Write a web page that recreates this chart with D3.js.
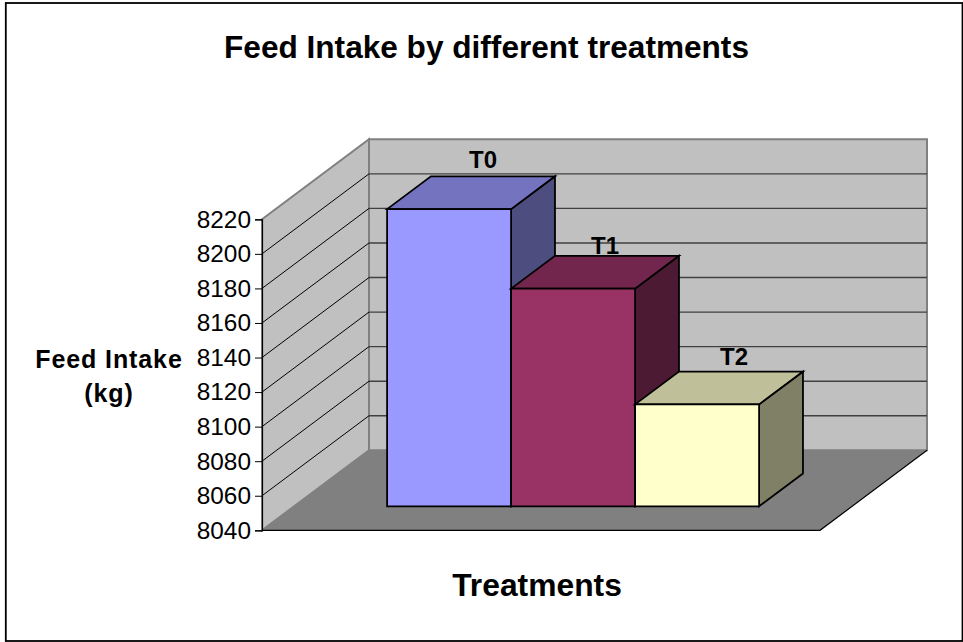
<!DOCTYPE html>
<html><head><meta charset="utf-8">
<script src="https://cdn.jsdelivr.net/npm/d3@7/dist/d3.min.js"></script>
<style>html,body{margin:0;padding:0;background:#fff}svg{display:block}text{font-family:"Liberation Sans",Arial,sans-serif;fill:#000}</style>
</head><body><svg id="c" width="963" height="642"></svg>
<script>
const categories = ["T0","T1","T2"];
const values = [8212,8166,8099];
const tickValues = [8040,8060,8080,8100,8120,8140,8160,8180,8200,8220];
const faceColors = ["#9999ff","#993366","#ffffcc"];
const titleText = "Feed Intake by different treatments";
const yTitleLines = ["Feed Intake","(kg)"];
const xTitleText = "Treatments";

const svg = d3.select("#c");
const W=963,H=642;
svg.append("rect").attr("x",5.8).attr("y",3).attr("width",956.7).attr("height",638).attr("fill","#fff").attr("stroke","#000").attr("stroke-width",1.8);

const x0=262,y0=530.3,plotW=558,plotH=311;
const depthX=107,depthY=-80;
const y=d3.scaleLinear().domain([8040,8220]).range([y0,y0-plotH]);
const x=d3.scaleBand().domain(categories).range([x0,x0+plotW]).paddingInner(0).paddingOuter(0.75);
const P=(px,py,d)=>[px+d*depthX,py+d*depthY];
const poly=(pts,fill,stroke,sw)=>svg.append("polygon").attr("points",pts.map(p=>p.join(",")).join(" ")).attr("fill",fill).attr("stroke",stroke||"none").attr("stroke-width",sw||0).attr("stroke-linejoin","miter");

const yT=y(8220),yB=y(8040),xR=x0+plotW;
poly([P(x0,yT,1),P(xR,yT,1),P(xR,yB,1),P(x0,yB,1)],"#c0c0c0","#808080",2);
poly([P(x0,yT,0),P(x0,yT,1),P(x0,yB,1),P(x0,yB,0)],"#c0c0c0","#808080",2);
poly([P(x0,yB,0),P(x0,yB,1),P(xR,yB,1),P(xR,yB,0)],"#808080");
tickValues.slice(1).forEach(v=>{
  const a=P(x0,y(v),0),b=P(x0,y(v),1),c=P(xR,y(v),1);
  if(v!==8220){
    svg.append("line").attr("x1",a[0]).attr("y1",a[1]).attr("x2",b[0]).attr("y2",b[1]).attr("stroke","#000").attr("stroke-width",1);
    svg.append("line").attr("x1",b[0]).attr("y1",b[1]).attr("x2",c[0]).attr("y2",c[1]).attr("stroke","#404040").attr("stroke-width",1.4);
  }
});
const fa=P(x0,yB,0),fb=P(xR,yB,0),fc=P(xR,yB,1);
svg.append("polyline").attr("points",[fa,fb,fc].map(p=>p.join(",")).join(" ")).attr("fill","none").attr("stroke","#000").attr("stroke-width",1.2);

const dFront=0.3,dBack=0.71;
categories.forEach((c,i)=>{
  const l=x(c),r=l+x.bandwidth(),t=y(values[i]),b=y(8040);
  const col=d3.color(faceColors[i]);
  const top=d3.rgb(col.r*.75,col.g*.75,col.b*.75),side=d3.rgb(col.r*.5,col.g*.5,col.b*.5);
  poly([P(r,t,dFront),P(r,t,dBack),P(r,b,dBack),P(r,b,dFront)],side,"#000",1.8);
  poly([P(l,t,dFront),P(l,t,dBack),P(r,t,dBack),P(r,t,dFront)],top,"#000",1.8);
  poly([P(l,t,dFront),P(r,t,dFront),P(r,b,dFront),P(l,b,dFront)],faceColors[i],"#000",1.8);
});
const labelNudgeX=[34,32,37], labelLift=[41,35,39];
categories.forEach((c,i)=>{
  const p=P(x(c)+x.bandwidth()/2,y(values[i]),dFront);
  svg.append("text").attr("x",p[0]+labelNudgeX[i]).attr("y",p[1]-labelLift[i]).attr("text-anchor","middle")
    .attr("font-size",24).attr("font-weight","bold").text(c);
});
const ax=svg.append("g").attr("transform",`translate(${x0},0)`).call(d3.axisLeft(y).tickValues(tickValues).tickSize(7).tickPadding(4).tickFormat(d3.format("d")));
ax.select(".domain").attr("stroke","#000").attr("stroke-width",1.2);
ax.selectAll("line").attr("stroke","#000");
ax.selectAll("text").attr("font-size",24.4).style("font-family",'"Liberation Sans",Arial,sans-serif').attr("fill","#000");
svg.append("text").attr("x",486.5).attr("y",58).attr("text-anchor","middle").attr("font-size",31.6).attr("font-weight","bold").text(titleText);
svg.append("text").attr("x",537).attr("y",596).attr("text-anchor","middle").attr("font-size",31.8).attr("font-weight","bold").text(xTitleText);
yTitleLines.forEach((t,i)=>svg.append("text").attr("x",109).attr("y",367.5+i*34.5).attr("text-anchor","middle").attr("font-size",25).attr("letter-spacing",0.9).attr("font-weight","bold").text(t));
</script></body></html>
